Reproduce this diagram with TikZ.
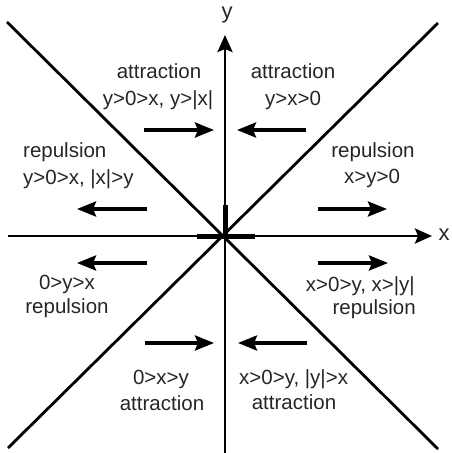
\documentclass[tikz,border=0pt]{standalone}
\usepackage{fontspec}
\setmainfont{Liberation Sans}
\usetikzlibrary{arrows.meta}
\begin{document}
\begin{tikzpicture}[x=1pt,y=-1pt,
  lbl/.style={inner sep=0pt,anchor=base,font=\fontsize{20.5}{24}\selectfont,text=black!85},
  axis/.style={line width=2.8pt,-{Stealth[length=17pt,width=15pt,inset=3pt]}},
  diag/.style={line width=2.8pt},
  flow/.style={line width=3.6pt,-{Stealth[length=19pt,width=15pt,inset=3pt]}}]
\useasboundingbox (0,0) rectangle (452,453);
% axes
\coordinate (xs) at (8,236);
\coordinate (xe) at (432,236);
\coordinate (ys) at (225,453);
\coordinate (ye) at (225,35);
\draw[axis] (xs) -- (xe);
\draw[axis] (ys) -- (ye);
\node[inner sep=0pt,font=\fontsize{22}{24}\selectfont,text=black!85] (xl) at (444,235) {x};
\node[inner sep=0pt,font=\fontsize{22}{24}\selectfont,text=black!85] (yl) at (227,15) {y};
% thick centre
\coordinate (h1) at (197,236);
\coordinate (h2) at (255,236);
\coordinate (v1) at (225,236);
\coordinate (v2) at (225,205);
\draw[line width=5pt] (h1) -- (h2);
\draw[line width=5pt] (v1) -- (v2);
% diagonals
\coordinate (d1a) at (7,22);
\coordinate (d1b) at (438,449);
\coordinate (d2a) at (8,448);
\coordinate (d2b) at (438,23);
\draw[diag] (d1a) -- (d1b);
\draw[diag] (d2a) -- (d2b);
% flow arrows
\coordinate (a1s) at (144,130); \coordinate (a1e) at (214,130);
\coordinate (a2s) at (306,130); \coordinate (a2e) at (237,130);
\coordinate (a3s) at (147,209); \coordinate (a3e) at (77,209);
\coordinate (a4s) at (318,209); \coordinate (a4e) at (387,209);
\coordinate (a5s) at (147,263); \coordinate (a5e) at (77,263);
\coordinate (a6s) at (145,343); \coordinate (a6e) at (214,343);
\coordinate (a7s) at (318,263); \coordinate (a7e) at (388,263);
\coordinate (a8s) at (307,343); \coordinate (a8e) at (238,343);
\draw[flow] (a1s) -- (a1e);
\draw[flow] (a2s) -- (a2e);
\draw[flow] (a3s) -- (a3e);
\draw[flow] (a4s) -- (a4e);
\draw[flow] (a5s) -- (a5e);
\draw[flow] (a6s) -- (a6e);
\draw[flow] (a7s) -- (a7e);
\draw[flow] (a8s) -- (a8e);
% labels
\node[lbl] (t1a) at (159,78) {attraction};
\node[lbl] (t1b) at (158,105) {y>0>x, y>|x|};
\node[lbl] (t2a) at (293,78) {attraction};
\node[lbl] (t2b) at (293,105) {y>x>0};
\node[lbl,anchor=base west] (t3a) at (23,157) {repulsion};
\node[lbl,anchor=base west] (t3b) at (23,184) {y>0>x, |x|>y};
\node[lbl] (t4a) at (373,157) {repulsion};
\node[lbl] (t4b) at (372,183) {x>y>0};
\node[lbl] (t5a) at (67,289) {0>y>x};
\node[lbl] (t5b) at (67,313) {repulsion};
\node[lbl] (t6a) at (161,384) {0>x>y};
\node[lbl] (t6b) at (162,410) {attraction};
\node[lbl,anchor=base east] (t7a) at (415,291) {x>0>y, x>|y|};
\node[lbl,anchor=base east] (t7b) at (416,314) {repulsion};
\node[lbl,anchor=base west] (t8a) at (239,384) {x>0>y, |y|>x};
\node[lbl] (t8b) at (294,409) {attraction};
\end{tikzpicture}
\end{document}
